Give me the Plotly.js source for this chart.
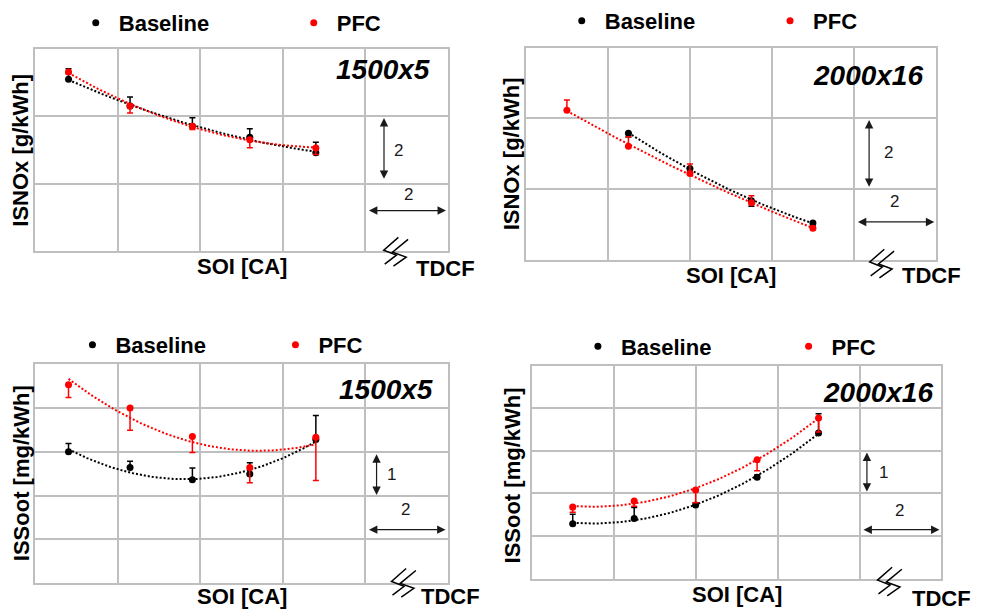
<!DOCTYPE html>
<html>
<head>
<meta charset="utf-8">
<script src="https://cdn.plot.ly/plotly-3.0.1.min.js"></script>
<style>
html,body{margin:0;padding:0;background:#ffffff;overflow:hidden;width:997px;height:614px;}
#chart{width:997px;height:614px;overflow:hidden;}
</style>
</head>
<body>
<div id="chart"></div>
<script>
// ---------------- DATA ----------------
// Panel A: ISNOx, 1500x5  (x in CA, y in g/kWh, relative scale)
const noxA_soi        = [0.81, 2.30, 3.81, 5.20, 6.80];
const noxA_base       = [5.11, 4.31, 3.71, 3.38, 2.92];
const noxA_pfc        = [5.32, 4.31, 3.71, 3.31, 3.06];
const noxA_basePlus   = [0.31, 0.27, 0.25, 0.25, 0.31];
const noxA_baseMinus  = [0, 0, 0, 0, 0];
const noxA_pfcPlus    = [0, 0, 0, 0, 0];
const noxA_pfcMinus   = [0.05, 0.21, 0.10, 0.24, 0.19];

// Panel B: ISNOx, 2000x16
const noxB_soi        = [1.0, 2.5, 4.0, 5.5, 7.0];
const noxB_base       = [null, 3.58, 2.58, 1.67, 1.04];
const noxB_pfc        = [4.23, 3.21, 2.44, 1.61, 0.89];
const noxB_basePlus   = [0, 0, 0, 0, 0];
const noxB_baseMinus  = [0, 0.11, 0.10, 0.16, 0.05];
const noxB_pfcPlus    = [0.29, 0.27, 0.27, 0.20, 0.05];
const noxB_pfcMinus   = [0, 0, 0, 0, 0];

// Panel C: ISSoot, 1500x5 (y in mg/kWh, relative scale)
const sootC_soi       = [0.81, 2.30, 3.81, 5.20, 6.80];
const sootC_base      = [3.00, 2.64, 2.36, 2.49, 3.28];
const sootC_pfc       = [4.53, 4.00, 3.35, 2.64, 3.33];
const sootC_basePlus  = [0.19, 0.14, 0.27, 0.26, 0.55];
const sootC_baseMinus = [0, 0, 0, 0, 0];
const sootC_pfcPlus   = [0, 0, 0, 0, 0];
const sootC_pfcMinus  = [0.29, 0.51, 0.37, 0.35, 0.99];

// Panel D: ISSoot, 2000x16
const sootD_soi       = [1.0, 2.5, 4.0, 5.5, 7.0];
const sootD_base      = [1.29, 1.41, 1.73, 2.38, 3.42];
const sootD_pfc       = [1.68, 1.82, 2.08, 2.79, 3.77];
const sootD_basePlus  = [0.22, 0.26, 0.05, 0.05, 0.45];
const sootD_baseMinus = [0, 0, 0, 0, 0];
const sootD_pfcPlus   = [0, 0, 0, 0, 0];
const sootD_pfcMinus  = [0.12, 0.12, 0.30, 0.26, 0.33];

// Labels
const seriesNames = ['Baseline', 'PFC'];
const xTitle = 'SOI [CA]';
const yTitles = ['ISNOx [g/kWh]', 'ISNOx [g/kWh]', 'ISSoot [mg/kWh]', 'ISSoot [mg/kWh]'];
const caseLabels = ['1500x5', '2000x16', '1500x5', '2000x16'];
const breakLabel = 'TDCF';
const scaleLabelsY = ['2', '2', '1', '1'];
const scaleLabelsX = ['2', '2', '2', '2'];

// ---------------- LAYOUT / STYLE ----------------
const W = 997, H = 614;
const FONT = 'Liberation Sans, Arial, Helvetica, sans-serif';
const GRID = '#bfbfbf';
const RED = '#ff0000';
const BLACK = '#000000';
const px = x => x / W;
const py = y => 1 - y / H;

const panels = [
  {soi: noxA_soi, base: noxA_base, pfc: noxA_pfc, bP: noxA_basePlus, bM: noxA_baseMinus, pP: noxA_pfcPlus, pM: noxA_pfcMinus,
   box: [36, 460, 42.7, 246.7], yMax: 6, dy: 2,
   legendDot: [97.7, 18.3], legendStep: 218,
   yTitle: [21.4, 144.5], xTitleY: 262.3,
   label: [443.7, 63.7], vArrow: [8.45, 2.1, 3.95], vLab: [8.8, 3.0], hArrow: [1.2, 8.05, 9.95], hLab: [9.04, 1.69],
   brk: [393, 233], tdcf: [424.7, 264.7]},
  {soi: noxB_soi, base: noxB_base, pfc: noxB_pfc, bP: noxB_basePlus, bM: noxB_baseMinus, pP: noxB_pfcPlus, pM: noxB_pfcMinus,
   box: [540, 961, 41, 255.7], yMax: 6, dy: 2,
   legendDot: [596.7, 16], legendStep: 208.3,
   yTitle: [524.9, 148.8], xTitleY: 271.3,
   label: [949.7, 69.3], vArrow: [8.37, 2.02, 3.95], vLab: [8.84, 3.04], hArrow: [1.07, 8.06, 9.96], hLab: [9.0, 1.65],
   brk: [892, 245], tdcf: [924, 271.3]},
  {soi: sootC_soi, base: sootC_base, pfc: sootC_pfc, bP: sootC_basePlus, bM: sootC_baseMinus, pP: sootC_pfcPlus, pM: sootC_pfcMinus,
   box: [36, 460, 361.3, 582.7], yMax: 5, dy: 1,
   legendDot: [94.3, 344], legendStep: 203,
   yTitle: [21.4, 471.7], xTitleY: 595.8,
   label: [446.3, 386.7], vArrow: [8.27, 1.98, 2.94], vLab: [8.62, 2.47], hArrow: [1.22, 8.05, 9.94], hLab: [8.98, 1.68],
   brk: [401, 568], tdcf: [430.3, 596]},
  {soi: sootD_soi, base: sootD_base, pfc: sootD_pfc, bP: sootD_basePlus, bM: sootD_baseMinus, pP: sootD_pfcPlus, pM: sootD_pfcMinus,
   box: [546, 966.7, 362.7, 578.3], yMax: 5, dy: 1,
   legendDot: [613.3, 345.7], legendStep: 210.7,
   yTitle: [526.4, 474.2], xTitleY: 594.2,
   label: [959.7, 390], vArrow: [8.18, 2.01, 2.96], vLab: [8.59, 2.49], hArrow: [1.15, 8.06, 9.95], hLab: [8.97, 1.61],
   brk: [900, 566.7], tdcf: [934.7, 598.7]}
];

// Excel-style polynomial (order 2) trendline: least squares through each series' points
function quadTrend(xs, ys) {
  const pts = [];
  xs.forEach((x, i) => { if (ys[i] !== null && ys[i] !== undefined) pts.push([x, ys[i]]); });
  const S = [0, 0, 0, 0, 0], T = [0, 0, 0];
  pts.forEach(([x, y]) => {
    for (let k = 0; k < 5; k++) S[k] += Math.pow(x, k);
    for (let k = 0; k < 3; k++) T[k] += y * Math.pow(x, k);
  });
  const M = [[S[0], S[1], S[2], T[0]], [S[1], S[2], S[3], T[1]], [S[2], S[3], S[4], T[2]]];
  for (let i = 0; i < 3; i++) {
    let p = i;
    for (let r = i + 1; r < 3; r++) if (Math.abs(M[r][i]) > Math.abs(M[p][i])) p = r;
    const tmp = M[i]; M[i] = M[p]; M[p] = tmp;
    for (let r = 0; r < 3; r++) {
      if (r === i) continue;
      const f = M[r][i] / M[i][i];
      for (let c = i; c < 4; c++) M[r][c] -= f * M[i][c];
    }
  }
  const a = [M[0][3] / M[0][0], M[1][3] / M[1][1], M[2][3] / M[2][2]];
  const x0 = Math.min(...pts.map(p => p[0])), x1 = Math.max(...pts.map(p => p[0]));
  const fx = [], fy = [];
  const n = 80;
  for (let i = 0; i <= n; i++) {
    const x = x0 + (x1 - x0) * i / n;
    fx.push(x); fy.push(a[0] + a[1] * x + a[2] * x * x);
  }
  return {x: fx, y: fy};
}

const traces = [];
const layout = {
  width: W, height: H, autosize: false,
  margin: {l: 0, r: 0, t: 0, b: 0, pad: 0},
  paper_bgcolor: '#ffffff', plot_bgcolor: '#ffffff',
  font: {family: FONT, color: BLACK},
  hovermode: false,
  annotations: [], shapes: []
};

const ITEMW = 36; // legend symbol area -> dot-to-text gap of ~23px

panels.forEach((p, i) => {
  const s = i === 0 ? '' : String(i + 1);
  const xa = 'x' + s, ya = 'y' + s;
  const lg = 'legend' + s;

  const tb = quadTrend(p.soi, p.base);
  const tp = quadTrend(p.soi, p.pfc);
  traces.push({x: tb.x, y: tb.y, xaxis: xa, yaxis: ya, mode: 'lines', showlegend: false,
    line: {color: BLACK, width: 2, dash: '2px,2px'}, hoverinfo: 'skip'});
  traces.push({x: tp.x, y: tp.y, xaxis: xa, yaxis: ya, mode: 'lines', showlegend: false,
    line: {color: RED, width: 2, dash: '2px,2px'}, hoverinfo: 'skip'});
  traces.push({x: p.soi, y: p.base, xaxis: xa, yaxis: ya, mode: 'markers', name: seriesNames[0], legend: lg,
    marker: {color: BLACK, size: 7},
    error_y: {type: 'data', symmetric: false, array: p.bP, arrayminus: p.bM, color: BLACK, thickness: 1.5, width: 3}});
  traces.push({x: p.soi, y: p.pfc, xaxis: xa, yaxis: ya, mode: 'markers', name: seriesNames[1], legend: lg,
    marker: {color: RED, size: 7},
    error_y: {type: 'data', symmetric: false, array: p.pP, arrayminus: p.pM, color: RED, thickness: 1.5, width: 3}});

  const [l, r, t, b] = p.box;
  layout['xaxis' + s] = {
    domain: [px(l), px(r)], range: [0, 10], tick0: 0, dtick: 2, anchor: ya,
    showgrid: true, gridcolor: GRID, gridwidth: 2, zeroline: false,
    showline: true, mirror: true, linecolor: GRID, linewidth: 2,
    ticks: '', showticklabels: false, fixedrange: true
  };
  layout['yaxis' + s] = {
    domain: [py(b), py(t)], range: [0, p.yMax], tick0: 0, dtick: p.dy, anchor: xa,
    showgrid: true, gridcolor: GRID, gridwidth: 2, zeroline: false,
    showline: true, mirror: true, linecolor: GRID, linewidth: 2,
    ticks: '', showticklabels: false, fixedrange: true
  };

  // axis titles
  layout.annotations.push({xref: 'paper', yref: 'paper', x: px((l + r) / 2), y: py(p.xTitleY),
    xanchor: 'center', yanchor: 'middle', showarrow: false,
    text: '<b>' + xTitle + '</b>', font: {family: FONT, size: 22, color: BLACK}});
  layout.annotations.push({xref: 'paper', yref: 'paper', x: px(p.yTitle[0]), y: py(p.yTitle[1]),
    xanchor: 'center', yanchor: 'middle', showarrow: false, textangle: -90,
    text: '<b>' + yTitles[i] + '</b>', font: {family: FONT, size: 22, color: BLACK}});

  // legend for this panel
  const step = p.legendStep - (ITEMW + 10) - 5;
  layout[lg] = {
    orientation: 'h', x: px(p.legendDot[0] - (ITEMW + 10) / 2), xanchor: 'left',
    y: py(p.legendDot[1] - 23.5), yanchor: 'top',
    itemwidth: ITEMW, entrywidth: step, entrywidthmode: 'pixels',
    bgcolor: 'rgba(0,0,0,0)', borderwidth: 0, traceorder: 'normal',
    font: {family: FONT, size: 22, color: BLACK, weight: 'bold'}
  };

  // case label
  layout.annotations.push({xref: 'paper', yref: 'paper', x: px(p.label[0]), y: py(p.label[1]),
    xanchor: 'right', yanchor: 'middle', showarrow: false,
    text: '<b><i>' + caseLabels[i] + '</i></b>', font: {family: FONT, size: 28, color: BLACK}});

  // scale arrows (in axis units)
  layout.annotations.push({xref: xa, yref: ya, axref: xa, ayref: ya,
    x: p.vArrow[0], y: p.vArrow[2], ax: p.vArrow[0], ay: p.vArrow[1], text: '', showarrow: true,
    arrowside: 'end+start', arrowhead: 2, startarrowhead: 2, arrowsize: 1.4, startarrowsize: 1.4,
    arrowwidth: 1.2, arrowcolor: '#1a1a1a', standoff: 0, startstandoff: 0});
  layout.annotations.push({xref: xa, yref: ya, x: p.vLab[0], y: p.vLab[1], showarrow: false,
    text: scaleLabelsY[i], font: {family: FONT, size: 17, color: '#1a1a1a'}});
  layout.annotations.push({xref: xa, yref: ya, axref: xa, ayref: ya,
    x: p.hArrow[2], y: p.hArrow[0], ax: p.hArrow[1], ay: p.hArrow[0], text: '', showarrow: true,
    arrowside: 'end+start', arrowhead: 2, startarrowhead: 2, arrowsize: 1.4, startarrowsize: 1.4,
    arrowwidth: 1.2, arrowcolor: '#1a1a1a', standoff: 0, startstandoff: 0});
  layout.annotations.push({xref: xa, yref: ya, x: p.hLab[0], y: p.hLab[1], showarrow: false,
    text: scaleLabelsX[i], font: {family: FONT, size: 17, color: '#1a1a1a'}});

  // axis break symbol + TDCF label
  const [ox, oy] = p.brk;
  const strokes = [
    [[16, 0], [1, 13], [14, 18], [2, 27]],
    [[26, 2], [10, 15], [24, 20], [11, 29]]
  ];
  strokes.forEach(st => {
    const d = st.map((q, k) => (k === 0 ? 'M' : 'L') + px(ox + q[0]) + ',' + py(oy + q[1])).join(' ');
    layout.shapes.push({type: 'path', xref: 'paper', yref: 'paper', path: d,
      line: {color: BLACK, width: 1.5}});
  });
  layout.annotations.push({xref: 'paper', yref: 'paper', x: px(p.tdcf[0]), y: py(p.tdcf[1]),
    xanchor: 'left', yanchor: 'middle', showarrow: false,
    text: '<b>' + breakLabel + '</b>', font: {family: FONT, size: 22, color: BLACK}});
});

Plotly.newPlot('chart', traces, layout, {staticPlot: true, displayModeBar: false});
</script>
</body>
</html>
